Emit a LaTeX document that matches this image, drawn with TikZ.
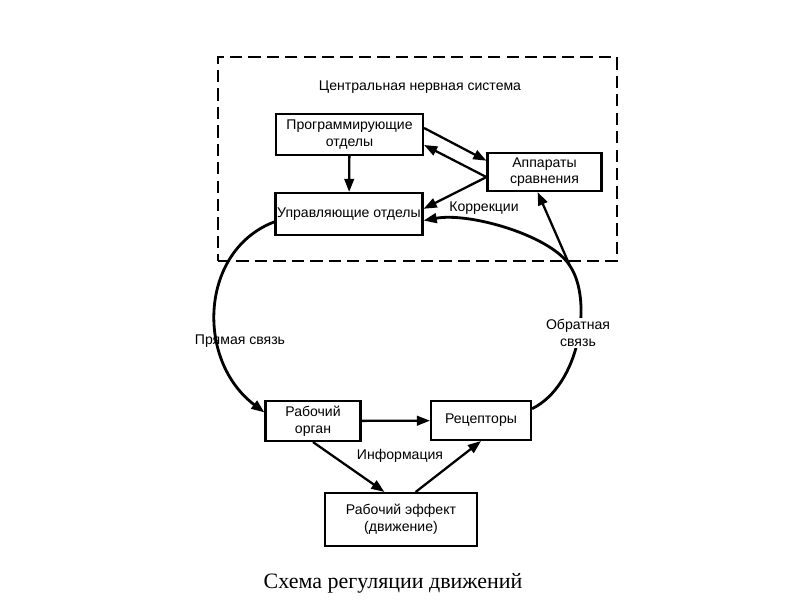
\documentclass[tikz,border=0pt]{standalone}
\usepackage{fontspec}
\setmainfont{Liberation Sans}
\newfontfamily\capfont{Liberation Serif}
\usetikzlibrary{arrows.meta,positioning}

\begin{document}
\begin{tikzpicture}[x=0.02cm,y=-0.02cm,>={Triangle[length=7.5pt,width=5.5pt]},
		blok/.style={draw,line width=1.2pt,align=center,inner sep=1pt,font=\fontsize{8}{9.5}\selectfont},
		lbl/.style={align=center,inner sep=1pt,font=\fontsize{8}{9.5}\selectfont},
		link/.style={->,line width=1.3pt}]
				\useasboundingbox (0,0) rectangle (800,600);
				
				\node[draw,dashed,line width=0.9pt,dash pattern=on 7pt off 3.5pt,minimum width=7.98cm,minimum height=4.08cm] (cns) at (417.5,159) {};
				\node[lbl] (title) at (420,87) {Центральная нервная система};
				
				\node[blok,minimum width=2.94cm,minimum height=0.82cm] (prog) at (349.5,134.5) {Программирующие\\ отделы};
				\node[blok,minimum width=2.92cm,minimum height=0.84cm] (upr) at (349,214) {Управляющие отделы};
				\node[blok,minimum width=2.28cm,minimum height=0.76cm] (app) at (544.5,172) {Аппараты\\ сравнения};
				\node[blok,minimum width=1.9cm,minimum height=0.8cm] (organ) at (313,421) {Рабочий\\ орган};
				\node[blok,minimum width=2cm,minimum height=0.78cm] (rec) at (481,420.5) {Рецепторы};
				\node[blok,minimum width=3.04cm,minimum height=1.06cm] (eff) at (401,519.5) {Рабочий эффект\\ (движение)};
				
				\node[lbl] (korr) at (484,208) {Коррекции};
				\node[lbl] (info) at (400,456) {Информация};
				\coordinate (fb) at (570,266);
				
				\path[link] 
				(prog) edge (upr)
				(prog.5) edge (app.169)
				(app.185) edge (prog.-8)
				edge (upr.4)
				(organ) edge (rec)
				(organ.south) edge (eff.121)
				(eff.62) edge (rec.south)
				(fb) edge (app.-109);
				
				% прямая связь
				\draw[link,line width=1.6pt] (upr.186) .. controls (200,250) and (195,360) .. (organ.170);
				\node[lbl] (direct) at (240,341) {Прямая связь};
				
				% обратная связь
				\draw[line width=1.6pt] (rec.13) .. controls (580,385) and (593,300) .. (fb);
				\draw[link,line width=1.6pt] (fb) .. controls (552,236) and (470,212) .. (upr.-5);
				\node[lbl,fill=white] (back) at (578,333) {Обратная\\ связь};
				
				\node[font=\capfont\fontsize{12.5}{14}\selectfont] (caption) at (393,583) {Схема регуляции движений};
				
				\end{tikzpicture}
\end{document}
